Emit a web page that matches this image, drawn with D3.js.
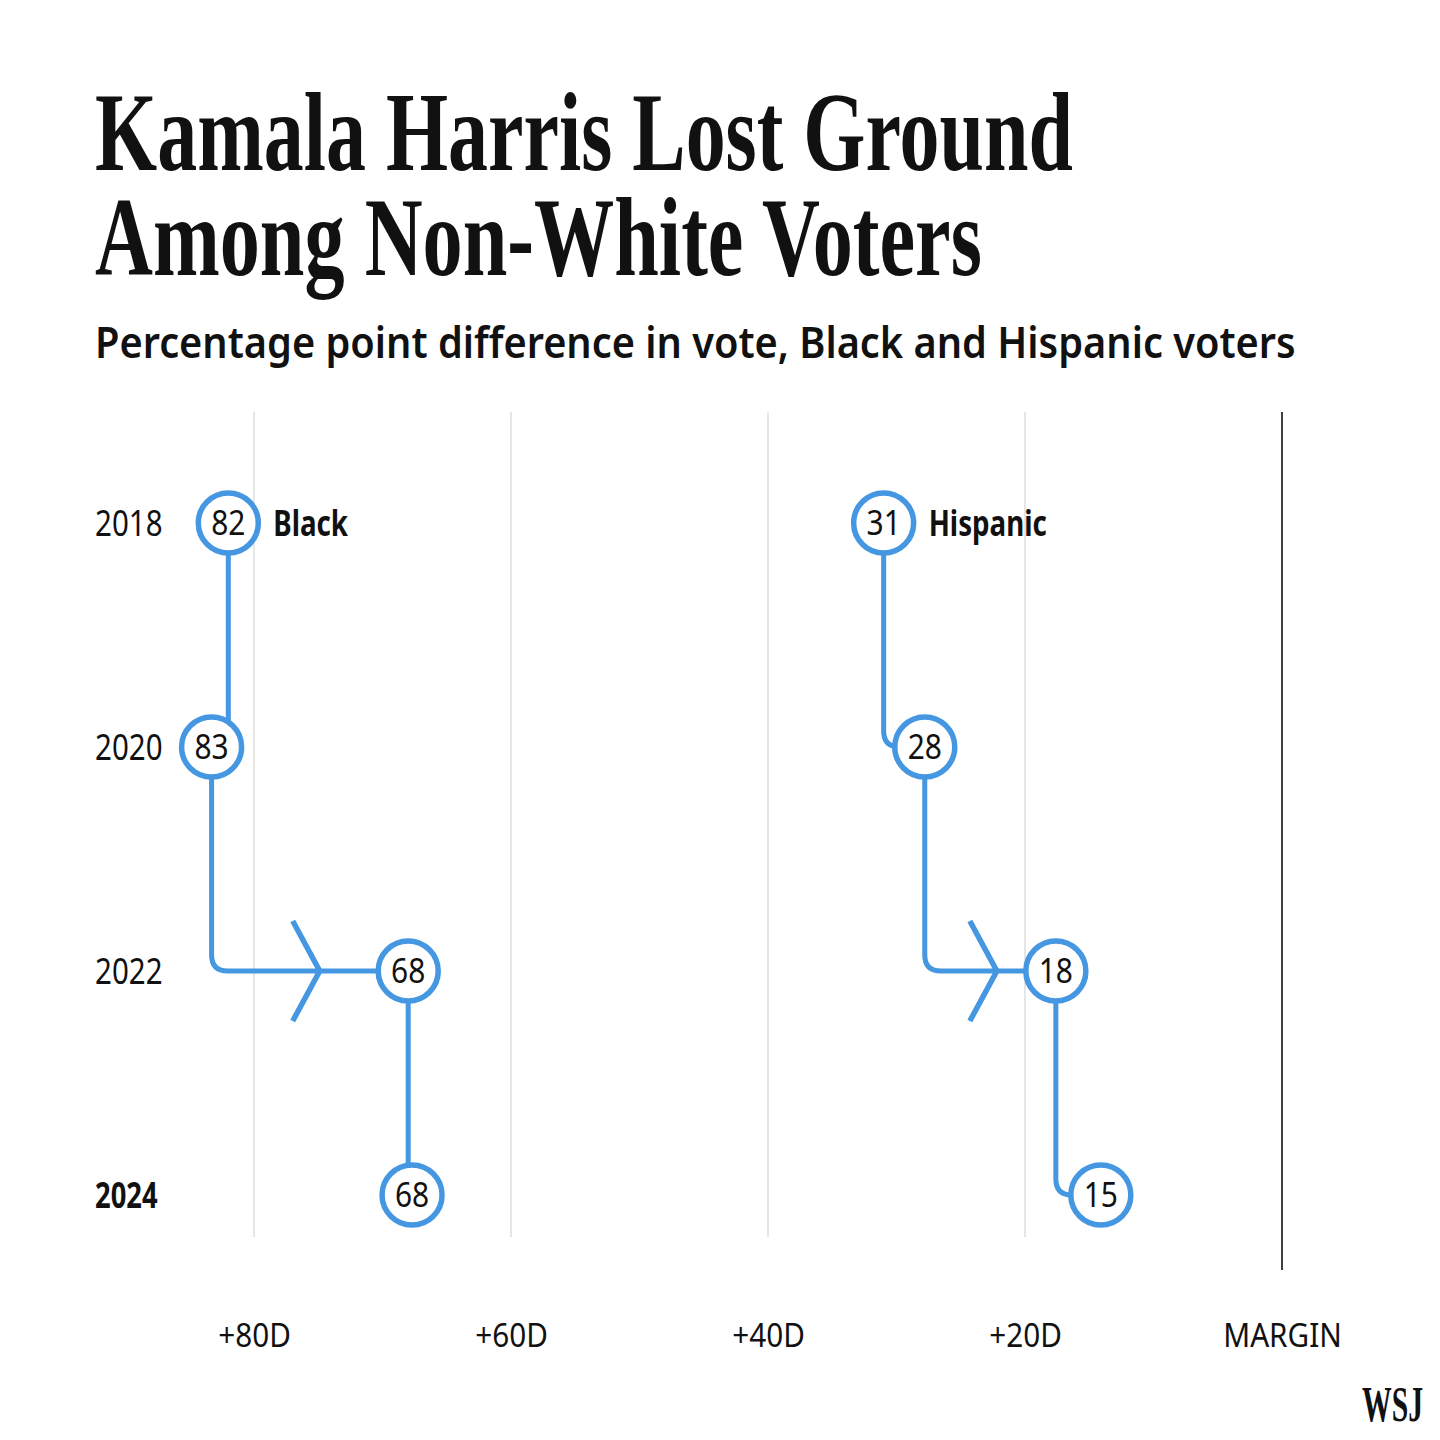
<!DOCTYPE html>
<html>
<head>
<meta charset="utf-8">
<script src="https://cdn.jsdelivr.net/npm/d3@7"></script>
<style>
  html, body { margin: 0; padding: 0; background: #fff; }
  svg { display: block; }
</style>
</head>
<body>
<script>
// ---------- DATA ----------
const years = ["2018", "2020", "2022", "2024"];
const seriesNames = ["Black", "Hispanic"];
const blackValues = [82.0, 83.3, 68.0, 67.7];
const blackLabels = ["82", "83", "68", "68"];
const hispanicValues = [31.0, 27.8, 17.6, 14.1];
const hispanicLabels = ["31", "28", "18", "15"];
const tickValues = [80, 60, 40, 20, 0];
const tickLabels = ["+80D", "+60D", "+40D", "+20D", "MARGIN"];
const titleLines = ["Kamala Harris Lost Ground", "Among Non-White Voters"];
const subtitle = "Percentage point difference in vote, Black and Hispanic voters";

// ---------- SETUP ----------
const W = 1440, H = 1440;
const BLUE = "#4597e2";
const SANS = "'Noto Sans', 'Open Sans', sans-serif";
const SERIF = "'Liberation Serif', 'DejaVu Serif', serif";

const svg = d3.select("body").append("svg")
  .attr("width", W).attr("height", H).attr("viewBox", `0 0 ${W} ${H}`);

const x = d3.scaleLinear().domain([0, 80]).range([1282, 254]);
const y = d3.scalePoint().domain(years).range([523, 1195]);

function fitText(sel, px, py, targetW) {
  const w = sel.node().getComputedTextLength();
  sel.attr("transform", `translate(${px},${py}) scale(${targetW / w},1)`);
}
function narrow(sel, px, py, sx) {
  sel.attr("transform", `translate(${px},${py}) scale(${sx},1)`);
}

// ---------- TITLE ----------
const titleWidths = [978, 887];
const titleBase = [170, 275];
titleLines.forEach((t, i) => {
  const el = svg.append("text")
    .attr("font-family", SERIF).attr("font-weight", 700)
    .attr("font-size", 112).attr("fill", "#111")
    .text(t);
  fitText(el, 95, titleBase[i], titleWidths[i]);
});

const sub = svg.append("text")
  .attr("font-family", SANS).attr("font-weight", 600)
  .attr("font-size", 43).attr("fill", "#111")
  .text(subtitle);
fitText(sub, 95, 358, 1201);

// ---------- GRID ----------
const grid = svg.append("g");
grid.selectAll("line.g")
  .data(tickValues.filter(v => v !== 0))
  .join("line")
  .attr("x1", d => x(d)).attr("x2", d => x(d))
  .attr("y1", 412).attr("y2", 1237)
  .attr("stroke", "#dedede").attr("stroke-width", 1.5);

grid.append("line")
  .attr("x1", x(0)).attr("x2", x(0))
  .attr("y1", 412).attr("y2", 1270)
  .attr("stroke", "#111").attr("stroke-width", 1.6);

// axis tick labels
const axis = d3.axisBottom(x).tickValues(tickValues)
  .tickFormat((d, i) => tickLabels[i]).tickSize(0);
const axG = svg.append("g").attr("transform", "translate(0,1300)").call(axis);
axG.select(".domain").remove();
axG.selectAll(".tick text").each(function () {
  const t = d3.select(this);
  t.attr("font-family", SANS).attr("font-size", 33).attr("fill", "#111")
    .attr("text-anchor", "middle").attr("dy", null).attr("y", 0);
  narrow(t, 0, 47, 0.9);
});

// ---------- YEAR LABELS ----------
svg.append("g").selectAll("text")
  .data(years)
  .join("text")
  .attr("font-family", SANS).attr("font-size", 36).attr("fill", "#111")
  .attr("font-weight", (d, i) => i === years.length - 1 ? 700 : 400)
  .attr("dy", "0.36em")
  .text(d => d)
  .each(function (d, i) {
    narrow(d3.select(this), 95, y(d), i === years.length - 1 ? 0.76 : 0.82);
  });

// ---------- SERIES ----------
const R = 30;
const series = [
  { name: seriesNames[0], values: blackValues, labels: blackLabels },
  { name: seriesNames[1], values: hispanicValues, labels: hispanicLabels }
];

function stepPath(x0, y0, x1, y1) {
  const dx = x1 - x0;
  const s = Math.sign(dx) || 1;
  const rc = Math.min(16, Math.abs(dx));
  const p = d3.path();
  p.moveTo(x0, y0);
  p.lineTo(x0, y1 - rc);
  p.quadraticCurveTo(x0, y1, x0 + s * rc, y1);
  p.lineTo(x1, y1);
  return p.toString();
}

series.forEach(s => {
  const g = svg.append("g");
  const pts = s.values.map((v, i) => ({ x: x(v), y: y(years[i]), v, label: s.labels[i] }));
  const segs = d3.pairs(pts);

  g.selectAll("path.seg")
    .data(segs)
    .join("path")
    .attr("d", ([a, b]) => stepPath(a.x, a.y, b.x, b.y))
    .attr("fill", "none").attr("stroke", BLUE).attr("stroke-width", 5);

  // chevrons on large shifts
  g.selectAll("path.chev")
    .data(segs.filter(([a, b]) => Math.abs(b.v - a.v) >= 5))
    .join("path")
    .attr("d", ([a, b]) => {
      const ax = a.x + 0.55 * (b.x - a.x);
      const dir = Math.sign(b.x - a.x);
      return `M${ax - dir * 27},${b.y - 50}L${ax},${b.y}L${ax - dir * 27},${b.y + 50}`;
    })
    .attr("fill", "none").attr("stroke", BLUE).attr("stroke-width", 5.5)
    .attr("stroke-linejoin", "miter");

  g.selectAll("circle")
    .data(pts)
    .join("circle")
    .attr("cx", d => d.x).attr("cy", d => d.y).attr("r", R)
    .attr("fill", "#fff").attr("stroke", BLUE).attr("stroke-width", 5.5);

  g.selectAll("text.val")
    .data(pts)
    .join("text")
    .attr("font-family", SANS).attr("font-size", 34).attr("fill", "#111")
    .attr("text-anchor", "middle").attr("dy", "0.36em")
    .text(d => d.label)
    .each(function (d) { narrow(d3.select(this), d.x, d.y, 0.88); });

  const lbl = g.append("text")
    .attr("font-family", SANS).attr("font-weight", 700).attr("font-size", 36)
    .attr("fill", "#111").attr("dy", "0.36em")
    .text(s.name);
  narrow(lbl, pts[0].x + R + 15, pts[0].y, 0.77);
});

// ---------- LOGO ----------
const logo = svg.append("text")
  .attr("font-family", SERIF).attr("font-weight", 700)
  .attr("font-size", 50).attr("fill", "#111").text("WSJ");
fitText(logo, 1362, 1421, 61);
</script>
</body>
</html>
